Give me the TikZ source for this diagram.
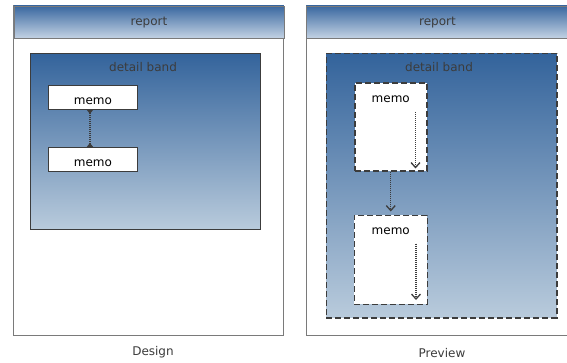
\documentclass[tikz,border=0pt]{standalone}
\usepackage{fontspec}
\setmainfont{DejaVu Sans}
\usetikzlibrary{positioning,arrows.meta}
\definecolor{headtop}{HTML}{3A68A0}
\definecolor{headmid}{HTML}{7595BE}
\definecolor{headbottom}{HTML}{C4D3E4}
\definecolor{bandtop}{HTML}{33639B}
\definecolor{bandbottom}{HTML}{B9CBDC}
\definecolor{pageline}{HTML}{7A7A7A}
\definecolor{inkgray}{HTML}{3C3C3C}
\begin{document}
\begin{tikzpicture}
[x=1pt, y=-1pt, font=\fontsize{12}{14}\selectfont,
% STYLES
% the page style draws the frame of a report
page/.style={draw=pageline, fill=white, line width=0.9pt},
header/.style={rectangle, draw=pageline, line width=0.9pt, top color=headtop, middle color=headmid, bottom color=headbottom, text=inkgray, minimum height=32.5pt, anchor=north west},
band/.style={rectangle, top color=bandtop, bottom color=bandbottom, anchor=north west},
bandlabel/.style={text=inkgray, inner sep=0pt},
dashes/.style={line width=1.5pt, dash pattern=on 6pt off 3pt},
% memo boxes of the design and of the preview
memo/.style={rectangle, draw=inkgray, fill=white, line width=0.9pt, minimum width=89pt, minimum height=24pt, text height=15pt, text depth=0pt, inner sep=0pt},
previewmemo/.style={rectangle, draw=inkgray, fill=white, dashes, inner sep=0pt},
link/.style={draw=inkgray, line width=1.2pt, dash pattern=on 1pt off 1pt},
barb/.style={-{Straight Barb[length=5pt,width=9pt,line width=1.3pt]}},
caption/.style={text=inkgray}]
\useasboundingbox[fill=white] (0,0) rectangle (567,362);

% Design
\draw [page] (13.5,5.5) rectangle (283.5,335);
\node [header, minimum width=270pt] (designhead) at (13.5,5.5) {report};
\node [band, draw=inkgray, line width=1pt, minimum width=230.5pt, minimum height=176.5pt] (designband) at (29.5,52.5) {};
\node [bandlabel] (designbandlabel) at (143,67) {detail band};
\node [memo, anchor=north west] (designmemoa) at (48,85) {memo};
\node [memo, below=37pt of designmemoa] (designmemob) {memo};
\draw [link, {Triangle[reversed,length=4pt,width=6pt]}-{Triangle[reversed,length=4pt,width=6pt]}]
  ([xshift=-3pt]designmemoa.south) -- ([xshift=-3pt]designmemob.north);
\node [caption] (designcaption) at (153,352) {Design};

% Preview
\draw [page] (306,5.5) rectangle (568,335);
\node [header, minimum width=262pt] (previewhead) at (306,5.5) {report};
\node [band, draw=inkgray, dashes, minimum width=230.5pt, minimum height=264.5pt] (previewband) at (325.7,52.5) {};
\node [bandlabel] (previewbandlabel) at (439,67) {detail band};
\node [previewmemo, minimum width=72pt, minimum height=88pt, anchor=north west] (previewmemoa) at (354,82) {};
\node [previewmemo, minimum width=73pt, minimum height=89pt, below=43pt of previewmemoa] (previewmemob) {};
\node [inner sep=0pt] (previewtexta) at ([yshift=-17pt]previewmemoa.north) {memo};
\node [inner sep=0pt] (previewtextb) at ([yshift=-17pt]previewmemob.north) {memo};
\draw [link, barb]
  ([xshift=-12pt,yshift=-30pt]previewmemoa.north east) -- ([xshift=-12pt,yshift=3pt]previewmemoa.south east);
\draw [link, barb]
  ([xshift=-12pt,yshift=-29pt]previewmemob.north east) -- ([xshift=-12pt,yshift=5pt]previewmemob.south east);
\draw [link, barb, shorten >=3pt] (previewmemoa) -- (previewmemob);
\node [caption] (previewcaption) at (442,353) {Preview};

\end{tikzpicture}
\end{document}
